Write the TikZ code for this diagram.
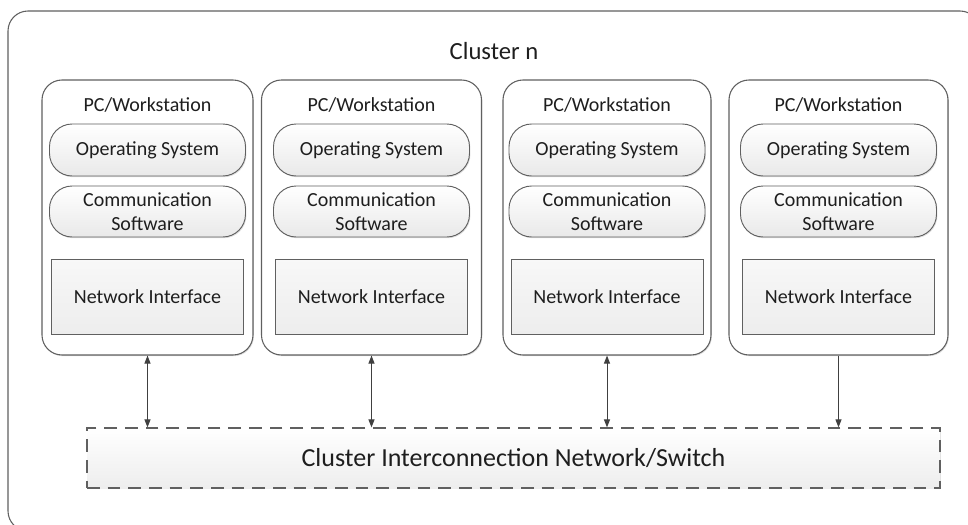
\documentclass[tikz,border=0pt]{standalone}
\usepackage{fontspec}
\setmainfont{Carlito}
\usetikzlibrary{arrows.meta,shadows}

\definecolor{edge}{HTML}{606060}
\definecolor{ink}{HTML}{1E1E1E}
\definecolor{lightfill}{HTML}{E9E9E9}
\definecolor{nifill}{HTML}{EDEDED}

\tikzset{
  sized/.style 2 args={minimum width={#1*0.75pt}, minimum height={#2*0.75pt}, inner sep=0pt},
  softshadow/.style={drop shadow={shadow xshift=0.7pt, shadow yshift=-0.9pt, fill=black, opacity=0.12}},
  outerbox/.style={draw=edge, line width=0.8pt, rounded corners=15pt, fill=white},
  pcbox/.style={draw=edge, line width=0.8pt, rounded corners=15pt, fill=white, softshadow},
  pill/.style={draw=edge, line width=0.7pt, rounded corners=17pt, top color=white, bottom color=lightfill,
               softshadow, sized={196}{52}, font=\fontsize{15}{18.5}\selectfont, text=ink, align=center},
  nibox/.style={draw=edge, line width=0.7pt, top color=white!60!nifill, bottom color=nifill,
                softshadow, sized={192}{75}, font=\fontsize{15}{18}\selectfont, text=ink},
  title/.style={anchor=base, font=\fontsize{15}{18}\selectfont, text=ink, inner sep=0pt},
  switchbox/.style={draw=edge, line width=0.9pt, dash pattern=on 9.5pt off 6pt, top color=white, bottom color=lightfill!80!white,
                    softshadow, sized={853}{60}, font=\fontsize{19.5}{22}\selectfont, text=ink},
  link/.style={draw=black!75, line width=0.75pt, >={Triangle[length=6pt, width=4.5pt]}}
}

\begin{document}
\begin{tikzpicture}[x=0.75pt, y=-0.75pt]
  \path[use as bounding box] (0,0) rectangle (968,525);
  \begin{scope}
    \clip (0,0) rectangle (968,525);
    % enclosing cluster frame, running past the right and bottom page edges
    \node[outerbox, sized={972}{520}] (cluster) at (494,271) {};
  \end{scope}
  \node[anchor=base, font=\fontsize{18.5}{22}\selectfont, text=ink, inner sep=0pt] (clustertitle) at (494,59) {Cluster n};

  % the four workstations
  \node[pcbox, sized={211}{275}] (pc1) at (147.5,217.5) {};
  \node[pcbox, sized={220}{275}] (pc2) at (371.5,217.5) {};
  \node[pcbox, sized={208}{275}] (pc3) at (607,217.5) {};
  \node[pcbox, sized={219}{275}] (pc4) at (838.5,217.5) {};

  \foreach \i/\cx in {1/147.5, 2/371.5, 3/607, 4/838.5}{
    \node[title] (pct\i) at (\cx,111) {PC/Workstation};
    \node[pill] (os\i) at (\cx,150) {Operating System};
    \node[pill, sized={196}{51}] (cs\i) at (\cx,211.5) {Communication\\Software};
    \node[nibox] (ni\i) at (\cx,296.5) {Network Interface};
  }

  % interconnection network
  \node[switchbox] (sw) at (513.5,458) {Cluster Interconnection Network/Switch};

  % links between workstations and the switch
  \draw[link, <->] (pc1.south) -- (pc1.south |- sw.north);
  \draw[link, <->] (pc2.south) -- (pc2.south |- sw.north);
  \draw[link, <->] (pc3.south) -- (pc3.south |- sw.north);
  \draw[link, ->] (pc4.south) -- (pc4.south |- sw.north);
\end{tikzpicture}
\end{document}
